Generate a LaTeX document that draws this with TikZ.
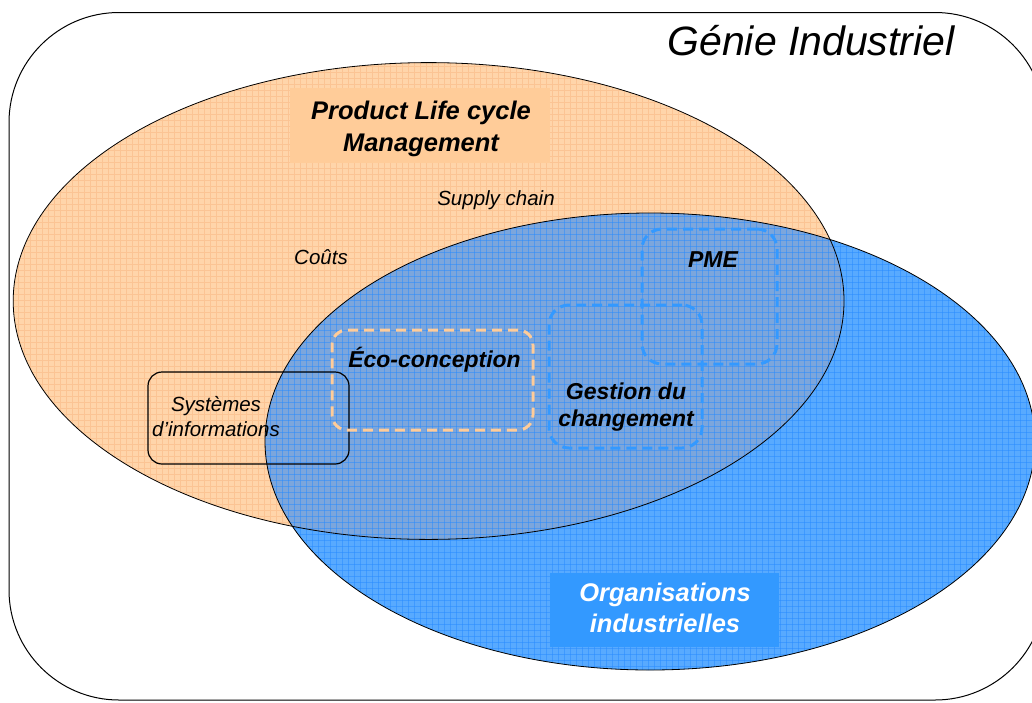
\documentclass[tikz,border=0pt]{standalone}
\usepackage{fontspec}
\setmainfont{Liberation Sans}
\definecolor{orangeF}{RGB}{255,213,170}
\definecolor{orangeG}{RGB}{251,196,148}
\definecolor{blueF}{RGB}{88,170,255}
\definecolor{overF}{RGB}{124,166,220}
\definecolor{blueG}{RGB}{40,140,255}
\definecolor{peach}{RGB}{255,204,153}
\definecolor{blueS}{RGB}{51,153,255}
\begin{document}
\begin{tikzpicture}[x=1pt,y=-1pt,
  lbl/.style={font=\fontsize{20.5}{25}\selectfont\itshape, inner sep=0pt, align=center},
  blbl/.style={font=\fontsize{23}{27}\selectfont\bfseries\itshape, inner sep=0pt, align=center},
  bigl/.style={font=\fontsize{25.5}{31.6}\selectfont\bfseries\itshape, inner sep=0pt, align=center},
  dashbox/.style={draw, line width=3pt, dash pattern=on 10pt off 6pt, rounded corners=18pt, inner sep=0pt},
  plmell/.style={x radius=415.4pt, y radius=238.4pt},
  orgell/.style={x radius=385pt, y radius=228.5pt},
]
\useasboundingbox (0,0) rectangle (1032,702);
\clip (0,0) rectangle (1032,702);
\fill[white] (0,0) rectangle (1032,702);
% outer frame
\node[draw, line width=1pt, rounded corners=110pt, minimum width=1036pt, minimum height=687.5pt, inner sep=0pt] (gi) at (527,356.25) {};
\coordinate (plmc) at (428.6,301);
\coordinate (orgc) at (650,441.5);
% orange ellipse
\fill[orangeF] (plmc) ellipse [plmell];
\begin{scope}
  \clip (plmc) ellipse [plmell];
  \foreach \x in {0,6,...,1032} \draw[orangeG, line width=0.8pt] (\x,0) -- (\x,702);
  \foreach \y in {0,6,...,702} \draw[orangeG, line width=0.8pt] (0,\y) -- (1032,\y);
\end{scope}
% blue ellipse
\fill[blueF] (orgc) ellipse [orgell];
\begin{scope}
  \clip (plmc) ellipse [plmell];
  \fill[overF] (orgc) ellipse [orgell];
\end{scope}
\begin{scope}
  \clip (orgc) ellipse [orgell];
  \foreach \x in {0,6,...,1032} \draw[blueG, opacity=0.5, line width=0.8pt] (\x,0) -- (\x,702);
  \foreach \y in {0,6,...,702} \draw[blueG, opacity=0.5, line width=0.8pt] (0,\y) -- (1032,\y);
\end{scope}
\draw[line width=0.8pt] (plmc) ellipse [plmell];
\draw[line width=0.8pt] (orgc) ellipse [orgell];
% boxes
\node[fill=peach, minimum width=260pt, minimum height=75pt, inner sep=0pt] (plmbox) at (420,125.5) {};
\node[fill=blueS, minimum width=229pt, minimum height=74pt, inner sep=0pt] (orgbox) at (664.5,610) {};
\node[draw, line width=1.2pt, rounded corners=14pt, minimum width=201pt, minimum height=92pt, inner sep=0pt] (sibox) at (248.5,418) {};
\node[dashbox, draw=peach, minimum width=201pt, minimum height=100pt, rounded corners=15pt] (ecobox) at (432.5,380) {};
\node[dashbox, draw=blueS, minimum width=135pt, minimum height=135pt, rounded corners=20pt] (pmebox) at (709.5,296.5) {};
\node[dashbox, draw=blueS, minimum width=153pt, minimum height=143pt, rounded corners=20pt] (gcbox) at (625.5,376.5) {};
% texts
\node[font=\fontsize{41}{48}\selectfont\itshape, anchor=base, inner sep=0pt] (gitxt) at (811,55) {Génie Industriel};
\node[bigl, font=\fontsize{25.5}{32}\selectfont\bfseries\itshape] (plm) at (421,129.3) {Product Life cycle\\Management};
\node[lbl, anchor=base] (sc) at (496,205) {Supply chain};
\node[lbl, anchor=base] (couts) at (321,264) {Coûts};
\node[lbl] (si) at (216,417) {Systèmes\\d’informations};
\node[blbl, anchor=base] (eco) at (434.5,367) {Éco-conception};
\node[blbl, anchor=base] (pme) at (713,267) {PME};
\node[blbl] (gc) at (626,407.5) {Gestion du\\changement};
\node[bigl, text=white] (org) at (665,608) {Organisations\\industrielles};
\end{tikzpicture}
\end{document}
